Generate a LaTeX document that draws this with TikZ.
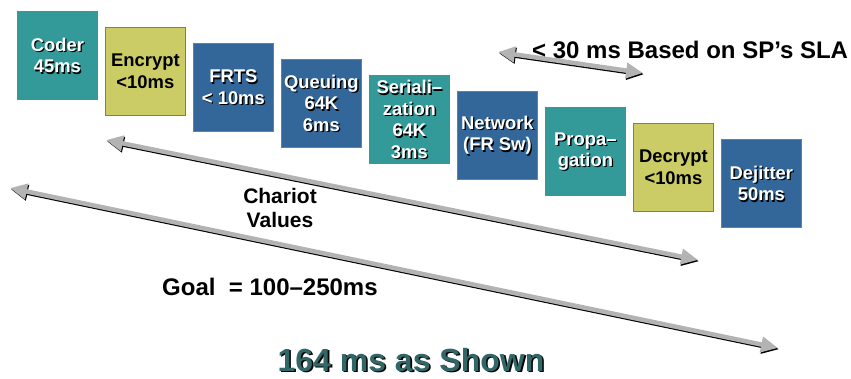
\documentclass[tikz,border=0pt]{standalone}
\usepackage{fontspec}
\setmainfont{Liberation Sans}
\usetikzlibrary{arrows.meta}

\definecolor{tealbox}{HTML}{339999}
\definecolor{yellowbox}{HTML}{CCCC66}
\definecolor{bluebox}{HTML}{336699}
\definecolor{arrowgray}{HTML}{B3B3B3}
\definecolor{titleteal}{HTML}{336666}

\tikzset{
  stage/.style={anchor=north west, minimum width=80pt, minimum height=88pt,
    inner sep=0pt, draw=tealbox, line width=0.8pt},
  stagetext/.style={align=center, inner sep=0pt,
    font=\fontsize{18.4}{21.5}\selectfont\bfseries},
  spanarrow/.style={line width=4.5pt, draw=arrowgray, fill=arrowgray,
    {Triangle[length=17pt,width=15pt]}-{Triangle[length=17pt,width=15pt]}},
  spanshadow/.style={spanarrow, draw=black, fill=black,
    transform canvas={shift={(0.9pt,-1.3pt)}}},
  bigtext/.style={inner sep=0pt, font=\fontsize{24}{28}\selectfont\bfseries},
  midtext/.style={inner sep=0pt, font=\fontsize{21}{24}\selectfont\bfseries},
  titletext/.style={inner sep=0pt, font=\fontsize{32}{36}\selectfont\bfseries},
}

% white label with a dark drop shadow, centred in a stage box
\newcommand\shadowlabel[2]{%
  \node[stagetext, black] (#1-shd) at ([shift={(1.3pt,-1.3pt)}]#1.center) {#2};
  \node[stagetext, white] (#1-txt) at (#1.center) {#2};}
% plain black label for the light boxes
\newcommand\plainlabel[2]{%
  \node[stagetext, black] (#1-txt) at (#1.center) {#2};}

\begin{document}
\begin{tikzpicture}[x=1pt, y=-1pt]
\useasboundingbox (0,0) rectangle (851,378);

% the chain of delay stages
\node[stage, fill=tealbox]   (coder)       at (17,11)  {};
\node[stage, fill=yellowbox] (encrypt)     at (105,27) {};
\node[stage, fill=bluebox]   (frts)        at (193,43) {};
\node[stage, fill=bluebox]   (queuing)     at (281,59) {};
\node[stage, fill=tealbox]   (serial)      at (369,75) {};
\node[stage, fill=bluebox]   (network)     at (457,91) {};
\node[stage, fill=tealbox]   (propagation) at (545,107) {};
\node[stage, fill=yellowbox] (decrypt)     at (633,123) {};
\node[stage, fill=bluebox]   (dejitter)    at (721,139) {};

\shadowlabel{coder}{Coder\\45ms}
\plainlabel{encrypt}{Encrypt\\<10ms}
\shadowlabel{frts}{FRTS\\< 10ms}
\shadowlabel{queuing}{Queuing\\64K\\6ms}
\shadowlabel{serial}{Seriali–\\zation\\64K\\3ms}
\shadowlabel{network}{Network\\(FR Sw)}
\shadowlabel{propagation}{Propa–\\gation}
\plainlabel{decrypt}{Decrypt\\<10ms}
\shadowlabel{dejitter}{Dejitter\\50ms}

% end points of the span arrows
\coordinate (sla-l) at (498,52);
\coordinate (sla-r) at (643,73);
\coordinate (chariot-l) at (106,140);
\coordinate (chariot-r) at (698,260);
\coordinate (goal-l) at (10,188);
\coordinate (goal-r) at (778,348);

\foreach \a/\b in {sla-l/sla-r, chariot-l/chariot-r, goal-l/goal-r}{
  \draw[spanshadow] (\a) -- (\b);
  \draw[spanarrow] (\a) -- (\b);
}

% span labels
\node[bigtext, anchor=base west] (sla) at (532,58) {< 30 ms Based on SP’s SLA};
\node[midtext, anchor=base] (chariot1) at (280,203) {Chariot};
\node[midtext, anchor=base] (chariot2) at (280,227) {Values};
\node[bigtext, anchor=base west] (goal) at (162,295) {Goal\ \ = 100–250ms};

% total
\node[titletext, anchor=base, black] (total-shd) at ([shift={(1.6pt,-1.6pt)}]411,371) {164 ms as Shown};
\node[titletext, anchor=base, titleteal] (total) at (411,371) {164 ms as Shown};
\end{tikzpicture}
\end{document}
